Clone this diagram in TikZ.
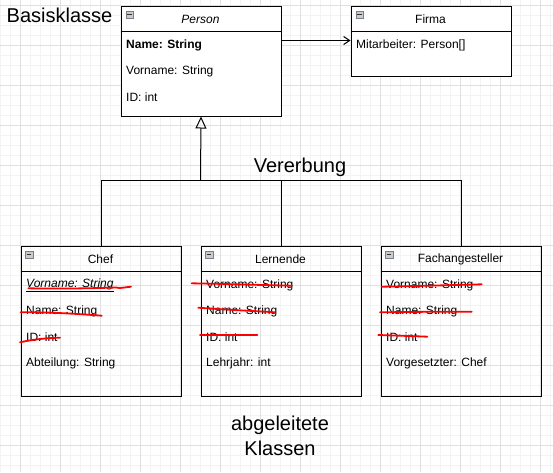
\documentclass[tikz,border=0pt]{standalone}
\usepackage{fontspec}
\setmainfont{Liberation Sans}
\usetikzlibrary{arrows.meta}
\definecolor{minorg}{HTML}{F3F3F3}
\definecolor{majorg}{HTML}{E0E0E0}
\definecolor{icong}{HTML}{C8CCD0}
\definecolor{iconb}{HTML}{7A7F85}
\tikzset{
  classbox/.style={draw=black, line width=1pt, anchor=north west, inner sep=0pt},
  whitebox/.style={classbox, fill=white},
  title/.style={font=\fontsize{12}{14}\selectfont, inner sep=0pt, anchor=center, yshift=-1pt},
  attr/.style={font=\fontsize{12}{14}\selectfont, inner sep=0pt, anchor=west, yshift=-1pt},
  big/.style={font=\fontsize{20}{24}\selectfont, inner sep=0pt},
  sep/.style={line width=1pt},
  conn/.style={line width=1pt},
  strike/.style={red, line width=1.8pt, line cap=round, line join=round},
  icon/.style={draw=iconb, fill=icong, line width=0.7pt, minimum width=7.5pt, minimum height=7pt, inner sep=0pt, anchor=north west,
    path picture={\draw[black!80, line width=1pt] ([xshift=1.5pt]path picture bounding box.west) -- ([xshift=-1.5pt]path picture bounding box.east);}},
}
\begin{document}
\begin{tikzpicture}[x=1pt,y=-1pt]
\useasboundingbox (0,0) rectangle (553,472);
\fill[white] (0,0) rectangle (553,472);
% grid
\foreach \x in {0,10,...,550} \draw[minorg, line width=0.8pt] (\x+0.5,0) -- (\x+0.5,472);
\foreach \y in {5,15,...,465} \draw[minorg, line width=0.8pt] (0,\y+0.5) -- (553,\y+0.5);
\foreach \x in {20,60,...,540} \draw[majorg, line width=0.8pt] (\x+0.5,0) -- (\x+0.5,472);
\foreach \y in {5,45,...,445} \draw[majorg, line width=0.8pt] (0,\y+0.5) -- (553,\y+0.5);

% Person
\node[whitebox, minimum width=160pt, minimum height=110pt] (person) at (120.5,5.5) {};
\draw[sep] (120.5,31.5) -- (280.5,31.5);
\node[icon] (personic) at (125.5,11) {};
\node[title, font=\fontsize{12}{14}\selectfont\itshape] (persont) at (200.5,18.5) {Person};
\node[attr, font=\fontsize{12}{14}\selectfont\bfseries] (pname) at (126,44.5) {Name: String};
\node[attr] (pvor) at (126,70.5) {Vorname: String};
\node[attr] (pid) at (126,96.5) {ID: int};

% Firma
\node[whitebox, minimum width=160pt, minimum height=70pt] (firma) at (350.5,5.5) {};
\draw[sep] (350.5,31.5) -- (510.5,31.5);
\node[icon] (firmaic) at (355.5,11) {};
\node[title] (firmat) at (430.5,18.5) {Firma};
\node[attr] (fmit) at (356,44.5) {Mitarbeiter: Person[]};

% Chef
\node[classbox, minimum width=160pt, minimum height=150pt] (chef) at (20.5,245.5) {};
\draw[sep] (20.5,271.5) -- (180.5,271.5);
\node[icon] (chefic) at (25,250.7) {};
\node[title] (cheft) at (100.5,258.5) {Chef};
\node[attr, font=\fontsize{12}{14}\selectfont\itshape] (cvor) at (26,284.5) {\underline{Vorname: String}};
\node[attr] (cname) at (26,310.5) {Name: String};
\node[attr] (cid) at (26,336.5) {ID: int};
\node[attr] (cabt) at (26,362.5) {Abteilung: String};

% Lernende
\node[classbox, minimum width=160pt, minimum height=150pt] (lern) at (200.5,245.5) {};
\draw[sep] (200.5,271.5) -- (360.5,271.5);
\node[icon] (lernic) at (205,250.7) {};
\node[title] (lernt) at (280.5,258.5) {Lernende};
\node[attr] (lvor) at (206,284.5) {Vorname: String};
\node[attr] (lname) at (206,310.5) {Name: String};
\node[attr] (lid) at (206,336.5) {ID: int};
\node[attr] (ljahr) at (206,362.5) {Lehrjahr: int};

% Fachangesteller
\node[classbox, minimum width=160pt, minimum height=150pt] (fach) at (380.5,245.5) {};
\draw[sep] (380.5,271.5) -- (540.5,271.5);
\node[icon] (fachic) at (385,250.7) {};
\node[title] (facht) at (460.5,258.5) {Fachangesteller};
\node[attr] (fvor) at (386,284.5) {Vorname: String};
\node[attr] (fname) at (386,310.5) {Name: String};
\node[attr] (fid) at (386,336.5) {ID: int};
\node[attr] (fvg) at (386,362.5) {Vorgesetzter: Chef};

% connectors
\coordinate (j) at (200.5,180.5);
\coordinate (assoc) at (280.5,40.5);
\draw[conn] (chef.north) |- (fach.north |- j) -- (fach.north);
\draw[conn] (lern.north) -- (lern.north |- j);
\draw[conn, -{Triangle[open, length=12pt, width=11pt, line width=1pt]}] (j) -- (person.south);
\draw[conn, -{Straight Barb[length=6pt, width=8pt, line width=1pt]}] (assoc) -- (firma.west |- assoc);

% labels
\node[big, anchor=base west] (basis) at (6.5,22.7) {Basisklasse};
\node[big, anchor=base] (vererb) at (300,172.7) {Vererbung};
\node[big, anchor=base] (abg) at (280,430.7) {abgeleitete};
\node[big, anchor=base] (kla) at (280,455.3) {Klassen};

% red strike-throughs
\draw[strike] (28.3,288.3) .. controls (70,289) and (100,288) .. (116,287.5) -- (120,288) -- (131,286.7);
\draw[strike] (20.7,312.3) .. controls (50,312) and (80,314) .. (101.7,315.7);
\draw[strike] (20,342.3) .. controls (35,339) and (48,338) .. (60,337.7);
\draw[strike] (191.7,283.3) .. controls (230,284) and (260,285) .. (291.7,285.7);
\draw[strike] (198.3,307.7) .. controls (230,310) and (255,311) .. (275,312.3);
\draw[strike] (200,335) -- (257.3,335);
\draw[strike] (381.7,286.7) .. controls (420,286) and (455,285) .. (481.7,284.3);
\draw[strike] (380,312.3) .. controls (410,312) and (440,311.5) .. (471.7,311.7);
\draw[strike] (378.3,335) .. controls (395,335.5) and (410,336) .. (427.3,336.7);
\end{tikzpicture}
\end{document}
